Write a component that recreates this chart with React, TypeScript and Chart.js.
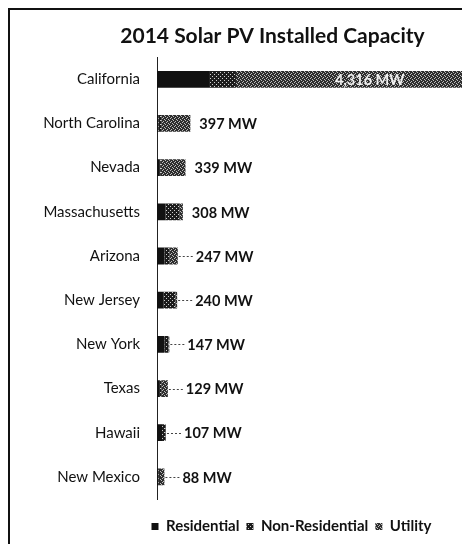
import React, { useEffect, useRef } from "react";
import { Chart, registerables } from "chart.js";

Chart.register(...registerables);

const states = [
  "California",
  "North Carolina",
  "Nevada",
  "Massachusetts",
  "Arizona",
  "New Jersey",
  "New York",
  "Texas",
  "Hawaii",
  "New Mexico",
];
const residential = [630, 15, 25, 100, 90, 80, 90, 25, 60, 15];
const nonResidential = [310, 35, 20, 170, 60, 140, 45, 30, 40, 20];
const utility = [3376, 347, 294, 38, 97, 20, 12, 74, 7, 53];
const seriesNames = ["Residential", "Non-Residential", "Utility"];
const titleText = "2014 Solar PV Installed Capacity";
const unit = "MW";

function makePattern(base: string, dots: [number, number][], dotColor: string, size = 4) {
  const c = document.createElement("canvas");
  c.width = size;
  c.height = size;
  const g = c.getContext("2d")!;
  g.fillStyle = base;
  g.fillRect(0, 0, size, size);
  g.fillStyle = dotColor;
  dots.forEach(([x, y]) => g.fillRect(x, y, 1, 1));
  return g.createPattern(c, "repeat")!;
}

const totalsPlugin = {
  id: "totals",
  afterDatasetsDraw(chart: any) {
    const ctx = chart.ctx as CanvasRenderingContext2D;
    const xs = chart.scales.x;
    const area = chart.chartArea;
    const meta = chart.getDatasetMeta(2);
    ctx.save();
    ctx.font = "bold 14.5px Lato";
    ctx.textBaseline = "middle";
    states.forEach((_, i) => {
      const total = residential[i] + nonResidential[i] + utility[i];
      const text = total.toLocaleString("en-US") + " " + unit;
      const y = meta.data[i].y;
      const end = xs.getPixelForValue(total);
      const w = ctx.measureText(text).width;
      if (end + 9 + w > area.right) {
        const start = xs.getPixelForValue(residential[i] + nonResidential[i]);
        ctx.fillStyle = "#f0f0f0";
        ctx.textAlign = "center";
        ctx.fillText(text, (start + end) / 2 - 8, y + 1);
      } else if (total < 300) {
        const lx = end + 18;
        ctx.strokeStyle = "#444";
        ctx.lineWidth = 1;
        ctx.setLineDash([2, 2]);
        ctx.beginPath();
        ctx.moveTo(end + 1, Math.round(y) + 0.5);
        ctx.lineTo(lx - 3, Math.round(y) + 0.5);
        ctx.stroke();
        ctx.setLineDash([]);
        ctx.fillStyle = "#111";
        ctx.textAlign = "left";
        ctx.fillText(text, lx, y + 1);
      } else {
        ctx.fillStyle = "#111";
        ctx.textAlign = "left";
        ctx.fillText(text, end + 9, y + 1);
      }
    });
    ctx.restore();
  },
};

const legendShift = {
  id: "legendShift",
  afterLayout(chart: any) {
    if (chart.legend) {
      chart.legend.left += 19;
      chart.legend.right += 19;
    }
  },
};

export default function App() {
  const ref = useRef<HTMLCanvasElement>(null);
  useEffect(() => {
    const resPat = "#111111";
    const nonResPat = makePattern("#1c1c1c", [[0, 0], [2, 2]], "#d0d0d0");
    const utilPat = makePattern("#2e2e2e", [[0, 0], [2, 1], [1, 3], [3, 2]], "#bdbdbd");
    const chart = new Chart(ref.current!, {
      type: "bar",
      data: {
        labels: states,
        datasets: [
          { label: seriesNames[0], data: residential, backgroundColor: resPat },
          { label: seriesNames[1], data: nonResidential, backgroundColor: nonResPat },
          { label: seriesNames[2], data: utility, backgroundColor: utilPat },
        ].map((d) => ({ ...d, categoryPercentage: 0.4, barPercentage: 0.95, borderWidth: 0 })) as any,
      },
      options: {
        indexAxis: "y",
        animation: false,
        responsive: false,
        maintainAspectRatio: false,
        layout: { padding: { left: 0, right: 9, top: 0, bottom: 0 } },
        scales: {
          x: {
            stacked: true,
            min: 0,
            max: 4500,
            display: true,
            grid: { display: false, drawTicks: false },
            border: { display: false },
            ticks: { display: false },
            afterFit: (s: any) => {
              s.height = 13;
            },
          },
          y: {
            stacked: true,
            grid: { display: false, drawTicks: false },
            border: { display: true, dash: [1, 2], color: "#222", width: 1 },
            ticks: { font: { family: "Lato", size: 15 }, color: "#111", padding: 17 },
            afterFit: (s: any) => {
              s.width = 147;
            },
          },
        },
        plugins: {
          title: {
            display: true,
            text: titleText,
            font: { family: "Lato", size: 21, weight: "bold" },
            color: "#111",
            padding: { top: 14, bottom: 8 },
          },
          legend: {
            position: "bottom",
            labels: {
              boxWidth: 7,
              boxHeight: 7,
              padding: 7,
              font: { family: "Lato", size: 15, weight: "bold" },
              color: "#111",
            },
          },
          tooltip: { enabled: false },
        },
      },
      plugins: [totalsPlugin, legendShift],
    });
    return () => chart.destroy();
  }, []);
  return (
    <div
      style={{
        width: 462,
        height: 536,
        overflow: "hidden",
        borderLeft: "2px solid #111",
        borderTop: "2px solid #111",
        boxSizing: "border-box",
        background: "#fff",
      }}
    >
      <canvas ref={ref} width={534} height={534} style={{ display: "block" }} />
    </div>
  );
}
